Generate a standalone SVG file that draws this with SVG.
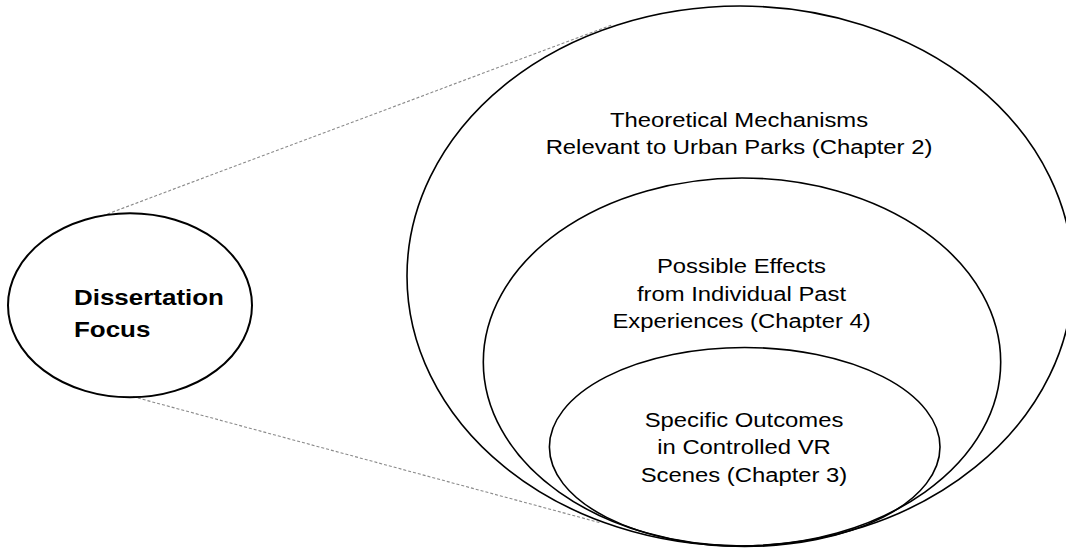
<svg xmlns="http://www.w3.org/2000/svg" width="1066" height="548" viewBox="0 0 1066 548">
<style>
.bg{fill:#ffffff}
.ell{fill:none;stroke:#000000;stroke-width:1.6}
.ellL{fill:none;stroke:#000000;stroke-width:2}
.dash{fill:none;stroke:#8a8a8a;stroke-width:1.1;stroke-dasharray:3 2}
.t{font-family:"Liberation Sans",Arial,sans-serif;font-size:21px;fill:#000000;text-anchor:middle}
.tb{font-family:"Liberation Sans",Arial,sans-serif;font-size:22px;font-weight:bold;fill:#000000}
</style>
<rect class="bg" x="0" y="0" width="1066" height="548"/>
<g id="connectors">
<line class="dash" x1="102.7" y1="215.7" x2="611.7" y2="25"/>
<line class="dash" x1="133" y1="396.7" x2="600" y2="522.7"/>
</g>
<g id="node-dissertation-focus">
<ellipse class="ellL" cx="130" cy="305.3" rx="122" ry="92"/>
<g transform="translate(74,0) scale(1.18,1)">
<text class="tb" x="0" y="305">Dissertation</text>
<text class="tb" x="0" y="337.3">Focus</text>
</g>
</g>
<g id="node-chapter2">
<ellipse class="ell" cx="740" cy="276" rx="333" ry="270"/>
<g transform="translate(739,0) scale(1.135,1)">
<text class="t" x="0" y="126.7">Theoretical Mechanisms</text>
<text class="t" x="0" y="154.3">Relevant to Urban Parks (Chapter 2)</text>
</g>
</g>
<g id="node-chapter4">
<ellipse class="ell" cx="742" cy="362" rx="258.7" ry="184"/>
<g transform="translate(741.5,0) scale(1.135,1)">
<text class="t" x="0" y="273.3">Possible Effects</text>
<text class="t" x="0" y="300.7">from Individual Past</text>
<text class="t" x="0" y="327.7">Experiences (Chapter 4)</text>
</g>
</g>
<g id="node-chapter3">
<ellipse class="ell" cx="744.7" cy="447" rx="195.3" ry="99.5"/>
<g transform="translate(744,0) scale(1.135,1)">
<text class="t" x="0" y="426.7">Specific Outcomes</text>
<text class="t" x="0" y="454.5">in Controlled VR</text>
<text class="t" x="0" y="481.7">Scenes (Chapter 3)</text>
</g>
</g>
</svg>
